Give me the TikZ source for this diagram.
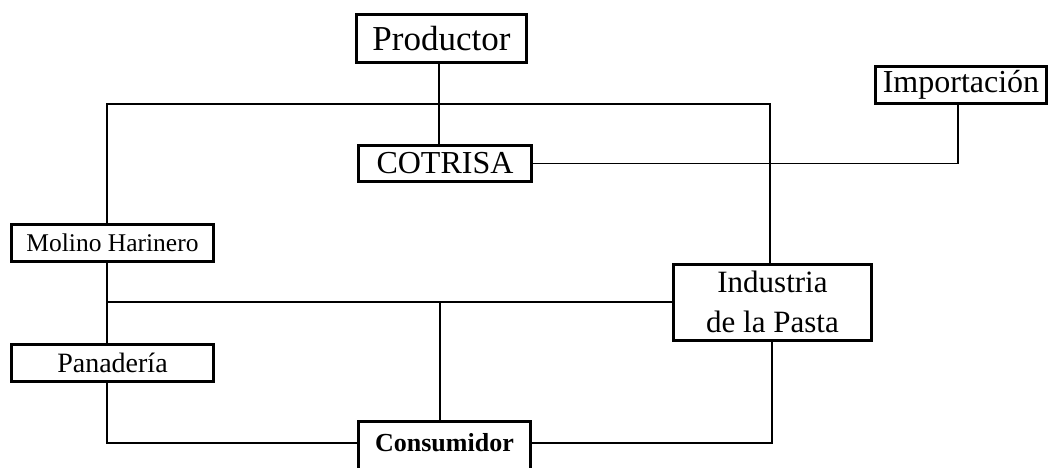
\documentclass[tikz,border=0pt]{standalone}
\usepackage{fontspec}
\setmainfont{Liberation Serif}
\begin{document}
\begin{tikzpicture}[x=1pt,y=-1pt,
  box/.style={draw,line width=3pt,inner sep=0pt,align=center},
  link/.style={line width=1.6pt}]
\useasboundingbox (0,0) rectangle (1053,468);
% boxes
\node[box,minimum width=170,minimum height=48,font=\fontsize{35}{40}\selectfont] (prod) at (441.5,38.5) {Productor};
\node[box,minimum width=173,minimum height=36,font=\fontsize{32}{38}\selectfont] (cotr) at (445,163.5) {COTRISA};
\node[box,minimum width=171,minimum height=37,font=\fontsize{32}{38}\selectfont] (imp) at (961,85) {Importación};
\node[box,minimum width=202,minimum height=37,font=\fontsize{25.5}{30}\selectfont] (mol) at (112.5,243) {Molino Harinero};
\node[box,minimum width=202,minimum height=37,font=\fontsize{28}{33}\selectfont] (pan) at (112.5,363) {Panadería};
\node[box,minimum width=198,minimum height=76,font=\fontsize{31}{40}\selectfont] (ind) at (772.5,302) {Industria\\de la Pasta};
\node[inner sep=0pt,minimum width=172,minimum height=42,font=\fontsize{26}{31}\selectfont\bfseries] (cons) at (444.5,443) {Consumidor};
\draw[line width=3pt] ([yshift=-15pt]cons.south west) -- (cons.north west) -- (cons.north east) -- ([yshift=-15pt]cons.south east);
% junction coordinates
\coordinate (xl) at (107,0);
\coordinate (xc) at (439,0);
\coordinate (xr) at (770,0);
\coordinate (xr2) at (772,0);
\coordinate (xi) at (958,0);
\coordinate (ytop) at (0,104);
\coordinate (jc) at (440,302);
% connectors
\draw[link] (prod.south -| xc) -- (cotr.north -| xc);
\draw[link] (mol.north -| xl) -- (xl |- ytop) -- (xr |- ytop) -- (ind.north -| xr);
\draw[link] (imp.south -| xi) |- (cotr.east);
\draw[link] (mol.south -| xl) -- (pan.north -| xl);
\draw[link] (ind.west -| xl) -- (ind.west);
\draw[link] (jc |- ind.west) -- (cons.north -| jc);
\draw[link] (pan.south -| xl) |- (cons.west);
\draw[link] (ind.south -| xr2) |- (cons.east);
\end{tikzpicture}
\end{document}
